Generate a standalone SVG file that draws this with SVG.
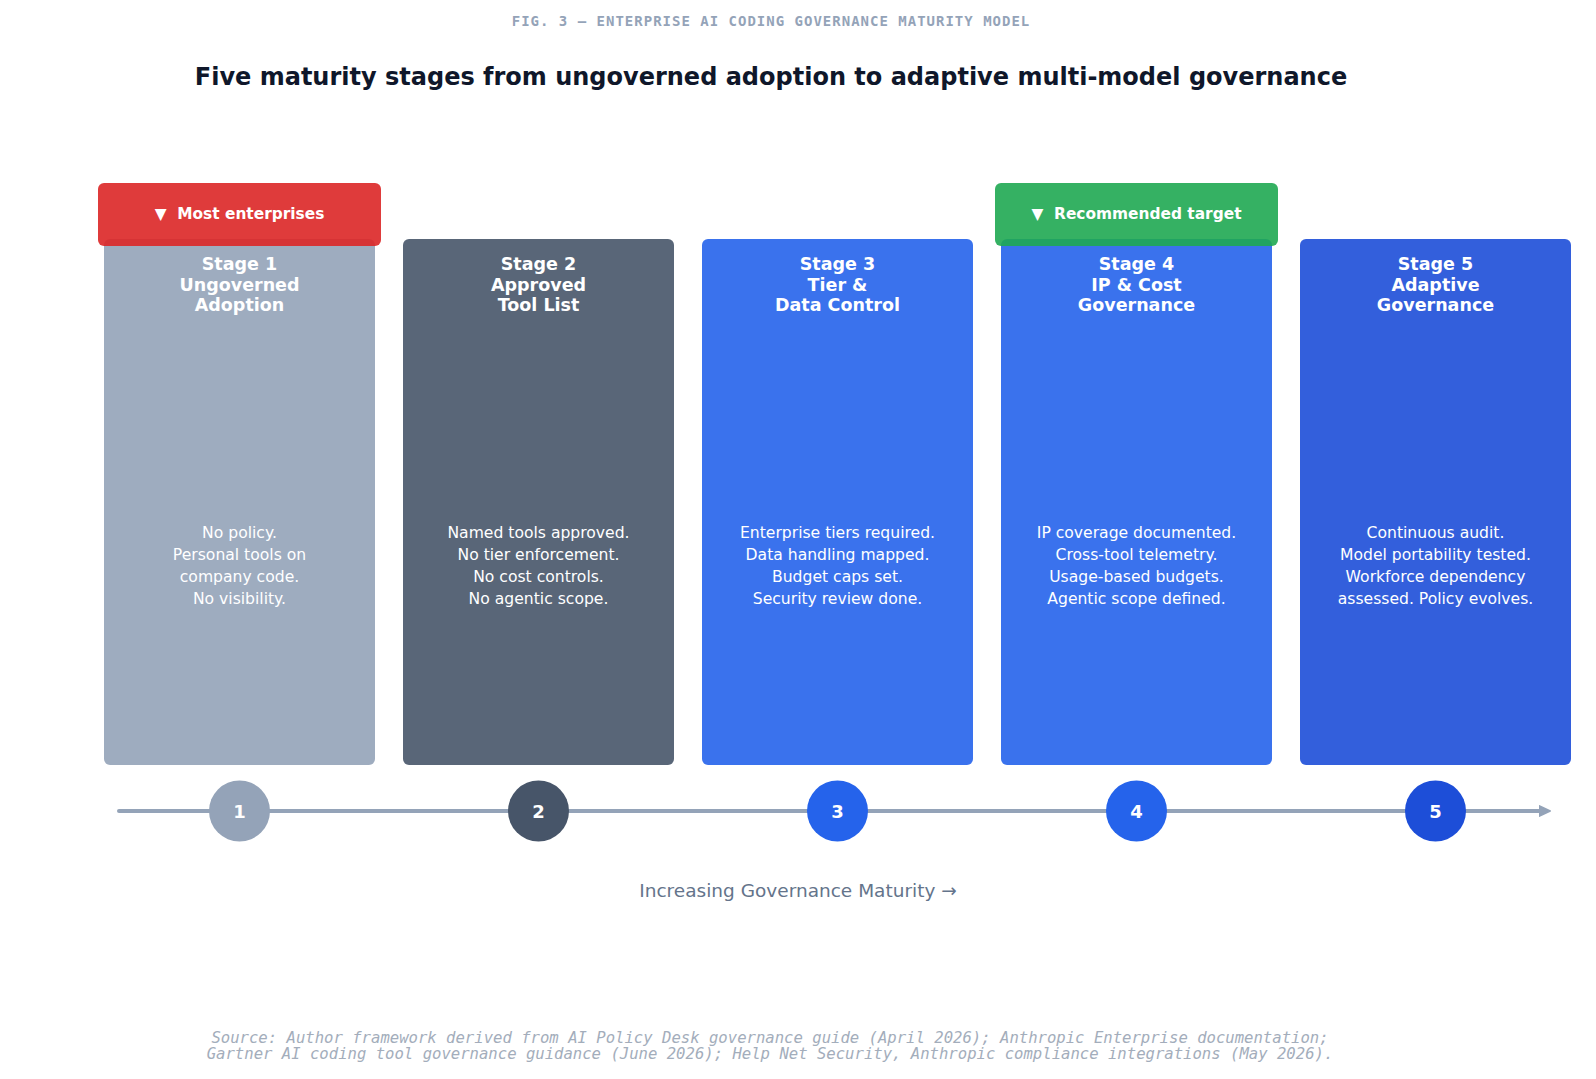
<svg xmlns="http://www.w3.org/2000/svg" width="1596" height="1079" viewBox="0 0 1596 1079">
<style>
.bg{fill:#ffffff}
.hdr{font-family:"DejaVu Sans Mono","Liberation Mono",monospace;font-weight:bold;font-size:14px;letter-spacing:1px;fill:#94a3b8}
.ttl{font-family:"DejaVu Sans","Liberation Sans",sans-serif;font-weight:bold;font-size:24px;fill:#0f172a}
.card{opacity:0.9}
.st{font-family:"DejaVu Sans","Liberation Sans",sans-serif;font-weight:bold;font-size:17.5px;fill:#ffffff;text-anchor:middle}
.ds{font-family:"DejaVu Sans","Liberation Sans",sans-serif;font-size:15.6px;fill:#ffffff;text-anchor:middle}
.bd{opacity:0.9}
.bt{font-family:"DejaVu Sans","Liberation Sans",sans-serif;font-weight:bold;font-size:15.4px;fill:#ffffff;text-anchor:middle}
.num{font-family:"DejaVu Sans","Liberation Sans",sans-serif;font-weight:bold;font-size:18px;fill:#ffffff;text-anchor:middle}
.ax{font-family:"DejaVu Sans","Liberation Sans",sans-serif;font-size:18.5px;fill:#64748b;text-anchor:middle}
.src{font-family:"DejaVu Sans Mono","Liberation Mono",monospace;font-style:italic;font-size:15.6px;fill:#a3adbb;text-anchor:middle}
</style>
<defs>
<marker id="arr" markerWidth="4" markerHeight="4" refX="1" refY="2" orient="auto" markerUnits="strokeWidth">
<path d="M0,0.7 L2.8,2 L0,3.3 Z" fill="#94a3b8" stroke="#94a3b8" stroke-width="0.4" stroke-linejoin="round"/>
</marker>
</defs>
<rect class="bg" x="0" y="0" width="1596" height="1079"/>
<text class="hdr" x="771" y="26" text-anchor="middle">FIG. 3 — ENTERPRISE AI CODING GOVERNANCE MATURITY MODEL</text>
<text class="ttl" x="771" y="85" text-anchor="middle">Five maturity stages from ungoverned adoption to adaptive multi-model governance</text>

<g id="connectors">
<line x1="119" y1="811" x2="1543" y2="811" stroke="#94a3b8" stroke-width="4" stroke-linecap="round" marker-end="url(#arr)"/>
</g>

<g id="stage1">
<rect class="card" x="104" y="239" width="271" height="526" rx="6" fill="#94a3b8"/>
<text class="st" x="239.5" y="270">Stage 1</text>
<text class="st" x="239.5" y="290.5">Ungoverned</text>
<text class="st" x="239.5" y="311">Adoption</text>
<text class="ds" x="239.5" y="538">No policy.</text>
<text class="ds" x="239.5" y="560">Personal tools on</text>
<text class="ds" x="239.5" y="582">company code.</text>
<text class="ds" x="239.5" y="604">No visibility.</text>
<circle cx="239.5" cy="811" r="30.5" fill="#94a3b8"/>
<text class="num" x="239.5" y="817.5">1</text>
</g>

<g id="stage2">
<rect class="card" x="403" y="239" width="271" height="526" rx="6" fill="#475569"/>
<text class="st" x="538.5" y="270">Stage 2</text>
<text class="st" x="538.5" y="290.5">Approved</text>
<text class="st" x="538.5" y="311">Tool List</text>
<text class="ds" x="538.5" y="538">Named tools approved.</text>
<text class="ds" x="538.5" y="560">No tier enforcement.</text>
<text class="ds" x="538.5" y="582">No cost controls.</text>
<text class="ds" x="538.5" y="604">No agentic scope.</text>
<circle cx="538.5" cy="811" r="30.5" fill="#475569"/>
<text class="num" x="538.5" y="817.5">2</text>
</g>

<g id="stage3">
<rect class="card" x="702" y="239" width="271" height="526" rx="6" fill="#2563eb"/>
<text class="st" x="837.5" y="270">Stage 3</text>
<text class="st" x="837.5" y="290.5">Tier &amp;</text>
<text class="st" x="837.5" y="311">Data Control</text>
<text class="ds" x="837.5" y="538">Enterprise tiers required.</text>
<text class="ds" x="837.5" y="560">Data handling mapped.</text>
<text class="ds" x="837.5" y="582">Budget caps set.</text>
<text class="ds" x="837.5" y="604">Security review done.</text>
<circle cx="837.5" cy="811" r="30.5" fill="#2563eb"/>
<text class="num" x="837.5" y="817.5">3</text>
</g>

<g id="stage4">
<rect class="card" x="1001" y="239" width="271" height="526" rx="6" fill="#2563eb"/>
<text class="st" x="1136.5" y="270">Stage 4</text>
<text class="st" x="1136.5" y="290.5">IP &amp; Cost</text>
<text class="st" x="1136.5" y="311">Governance</text>
<text class="ds" x="1136.5" y="538">IP coverage documented.</text>
<text class="ds" x="1136.5" y="560">Cross-tool telemetry.</text>
<text class="ds" x="1136.5" y="582">Usage-based budgets.</text>
<text class="ds" x="1136.5" y="604">Agentic scope defined.</text>
<circle cx="1136.5" cy="811" r="30.5" fill="#2563eb"/>
<text class="num" x="1136.5" y="817.5">4</text>
</g>

<g id="stage5">
<rect class="card" x="1300" y="239" width="271" height="526" rx="6" fill="#1d4ed8"/>
<text class="st" x="1435.5" y="270">Stage 5</text>
<text class="st" x="1435.5" y="290.5">Adaptive</text>
<text class="st" x="1435.5" y="311">Governance</text>
<text class="ds" x="1435.5" y="538">Continuous audit.</text>
<text class="ds" x="1435.5" y="560">Model portability tested.</text>
<text class="ds" x="1435.5" y="582">Workforce dependency</text>
<text class="ds" x="1435.5" y="604">assessed. Policy evolves.</text>
<circle cx="1435.5" cy="811" r="30.5" fill="#1d4ed8"/>
<text class="num" x="1435.5" y="817.5">5</text>
</g>

<g id="badge-most">
<rect class="bd" x="98" y="183" width="283" height="63" rx="6" fill="#dc2626"/>
<text class="bt" x="239.5" y="218.5">▼&#160; Most enterprises</text>
</g>

<g id="badge-target">
<rect class="bd" x="995" y="183" width="283" height="63" rx="6" fill="#1fa852"/>
<text class="bt" x="1136.5" y="218.5">▼&#160; Recommended target</text>
</g>

<text class="ax" x="798" y="897">Increasing Governance Maturity →</text>

<text class="src" x="770" y="1042.5">Source: Author framework derived from AI Policy Desk governance guide (April 2026); Anthropic Enterprise documentation;</text>
<text class="src" x="770" y="1058.5">Gartner AI coding tool governance guidance (June 2026); Help Net Security, Anthropic compliance integrations (May 2026).</text>
</svg>
